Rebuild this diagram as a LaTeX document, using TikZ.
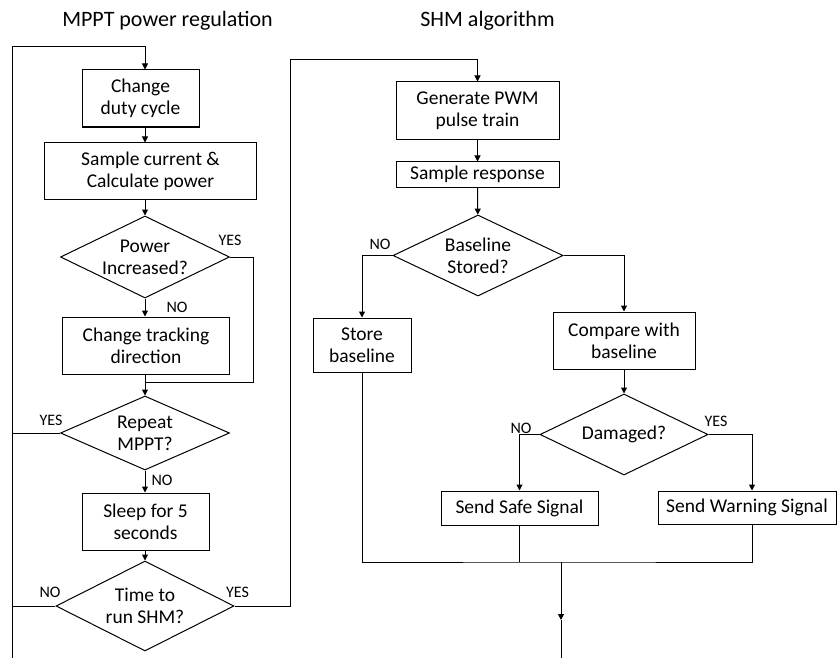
\documentclass[tikz,border=0pt]{standalone}
\usepackage{fontspec}
\setmainfont{Carlito}
\usepackage{tikz}
\usetikzlibrary{arrows.meta,positioning,shapes.geometric}
\tikzset{
  flowbox/.style={draw, line width=1bp, rectangle, inner sep=0pt, align=center,
    font=\fontsize{19.5bp}{22bp}\selectfont},
  flowdec/.style={draw, line width=1bp, diamond, inner sep=0pt},
  dectext/.style={align=center, inner sep=0pt, font=\fontsize{19.5bp}{22bp}\selectfont},
  answer/.style={inner sep=0pt, font=\fontsize{16bp}{18bp}\selectfont},
  heading/.style={inner sep=0pt, anchor=base, font=\fontsize{22bp}{26bp}\selectfont},
  flowline/.style={line width=1bp},
  flowarrow/.style={line width=1bp, -{Triangle[length=6bp,width=6bp]}}
}

\begin{document}
\begin{tikzpicture}[x=1bp,y=-1bp]
\fill[white] (0,0) rectangle (838,658);
\coordinate (lcol) at (145,0);
\coordinate (rcol) at (752,0);

\node[heading] (mppttitle) at (167.5,27) {MPPT power regulation};
\node[heading] (shmtitle) at (487.5,27) {SHM algorithm};

% MPPT column
\node[flowbox, minimum width=117bp, minimum height=57bp] (duty) at (140.5,98.5) {Change\\duty cycle};
\node[flowbox, minimum width=211bp, minimum height=56bp] (sample) at (150.5,171) {Sample current \&\\Calculate power};
\node[flowdec, minimum width=169bp, minimum height=82bp,
  label={[dectext]center:Power\\Increased?}] (pwr) at (145,257) {};
\node[flowbox, minimum width=166bp, minimum height=57bp] (track) at (146,345.5) {Change tracking\\direction};
\node[flowdec, minimum width=169bp, minimum height=74bp,
  label={[dectext]center:Repeat\\MPPT?}] (rep) at (145,433) {};
\node[flowbox, minimum width=127bp, minimum height=57bp] (sleep) at (145.5,521.5) {Sleep for 5\\seconds};
\node[flowdec, minimum width=178bp, minimum height=90bp,
  label={[dectext]center:Time to\\run SHM?}] (shmq) at (145,606) {};

% SHM column
\node[flowbox, minimum width=163bp, minimum height=57bp] (pwm) at (477.5,110.5) {Generate PWM\\pulse train};
\node[flowbox, minimum width=163bp, minimum height=25bp] (resp) at (477.5,174.5) {Sample response};
\node[flowdec, minimum width=170bp, minimum height=81bp,
  label={[dectext]center:Baseline\\Stored?}] (base) at (478,255.5) {};
\node[flowbox, minimum width=98bp, minimum height=54bp] (store) at (362,345) {Store\\baseline};
\node[flowbox, minimum width=142bp, minimum height=57bp] (cmp) at (624,340.5) {Compare with\\baseline};
\node[flowdec, minimum width=168bp, minimum height=81bp,
  label={[dectext]center:Damaged?}] (dmg) at (624,434.5) {};
\node[flowbox, minimum width=157bp, minimum height=34bp] (safe) at (519.5,508) {Send Safe Signal};
\node[flowbox, minimum width=178bp, minimum height=33bp] (warn) at (747,507.5) {Send Warning Signal};

\node[answer] (pwryes) at (230,240) {YES};
\node[answer] (pwrno) at (177,307) {NO};
\node[answer] (repyes) at (51,420) {YES};
\node[answer] (repno) at (162,480) {NO};
\node[answer] (shmno) at (50,592) {NO};
\node[answer] (shmyes) at (237.5,592) {YES};
\node[answer] (baseno) at (380,244) {NO};
\node[answer] (dmgno) at (521,428) {NO};
\node[answer] (dmgyes) at (716,421) {YES};

\coordinate (loopbot) at (12,658);
\coordinate (looptop) at (12,47);
\coordinate (yesbend) at (253,382);
\coordinate (merge) at (145,382);
\coordinate (shmtop) at (290,60);
\coordinate (endjoin) at (561,562);
\coordinate (endarr) at (561,620);
\coordinate (endbot) at (561,658);

\draw[flowarrow] (loopbot) -- (looptop) -| (duty.north -| lcol);
\draw[flowarrow] (duty.south -| lcol) -- (sample.north -| lcol);
\draw[flowarrow] (sample.south -| lcol) -- (pwr.north);
\draw[flowarrow] (pwr.south) -- (track.north -| pwr.south);
\draw[flowline] (pwr.east) -| (yesbend) -- (merge);
\draw[flowline] (track.south -| merge) -- (merge);
\draw[flowarrow] (merge) -- (rep.north);
\draw[flowline] (rep.west) -- (rep.west -| loopbot);
\draw[flowarrow] (rep.south) -- (sleep.north -| rep.south);
\draw[flowarrow] (sleep.south -| shmq.north) -- (shmq.north);
\draw[flowline] (shmq.west) -- (shmq.west -| loopbot);
\draw[flowarrow] (shmq.east) -| (shmtop) -| (pwm.north);

\draw[flowarrow] (pwm) -- (resp);
\draw[flowarrow] (resp) -- (base);
\draw[flowarrow] (base.west) -| (store.north);
\draw[flowarrow] (base.east) -| (cmp.north);
\draw[flowarrow] (cmp) -- (dmg);
\draw[flowarrow] (dmg.west) -| (safe.north);
\draw[flowarrow] (dmg.east) -| (warn.north -| rcol);
\draw[flowline] (store.south) |- (endjoin) -| (warn.south -| rcol);
\draw[flowline] (safe.south) -- (safe.south |- endjoin);
\draw[flowarrow] (endjoin) -- (endarr);
\draw[flowline] (endarr) -- (endbot);
\end{tikzpicture}
\end{document}
